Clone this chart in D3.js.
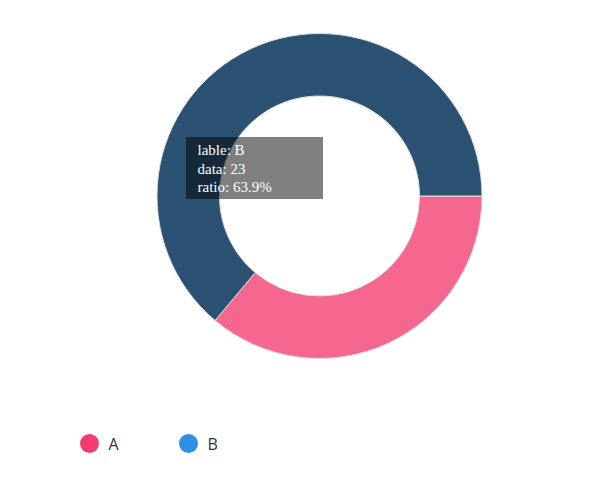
<!DOCTYPE html>
<html><head><meta charset="utf-8">
<script src="https://cdn.jsdelivr.net/npm/d3@7"></script>
<style>html,body{margin:0;padding:0;background:#fff;}</style>
</head><body>
<svg id="chart" width="594" height="496"></svg>
<script>
const labels = ["A", "B"];
const values = [13, 23];
const sliceColors = ["#F5678E", "#2B5273"];
const legendColors = ["#F43C6E", "#2F8EE6"];
const tooltipIndex = 1;

const svg = d3.select("#chart");
const cx = 319.5, cy = 196, rOuter = 162.5, rInner = 100;
const total = d3.sum(values);
const data = labels.map((l, i) => ({label: l, value: values[i], color: sliceColors[i], legend: legendColors[i]}));

const pie = d3.pie().value(d => d.value).sort(null)
  .startAngle(Math.PI / 2).endAngle(Math.PI / 2 + 2 * Math.PI);
const arc = d3.arc().innerRadius(rInner).outerRadius(rOuter);

const g = svg.append("g").attr("transform", `translate(${cx},${cy})`);
g.selectAll("path").data(pie(data)).join("path")
  .attr("d", arc)
  .attr("fill", d => d.data.color)
  .attr("stroke", "#ddd")
  .attr("stroke-width", 1);

// tooltip
const td = data[tooltipIndex];
const tip = svg.append("g").attr("transform", "translate(186,137)");
tip.append("rect").attr("width", 137).attr("height", 62).attr("fill", "rgba(0,0,0,0.5)");
const lines = ["lable: " + td.label, "data: " + td.value, "ratio: " + (td.value / total * 100).toFixed(1) + "%"];
tip.selectAll("text").data(lines).join("text")
  .attr("x", 11.5).attr("y", (d, i) => 18 + i * 18.5)
  .attr("fill", "#fff")
  .attr("font-family", "'Liberation Serif', 'Times New Roman', serif")
  .attr("font-size", 15)
  .text(d => d);

// legend
const leg = svg.append("g").attr("transform", "translate(89.5,443.5)");
const item = leg.selectAll("g").data(data).join("g")
  .attr("transform", (d, i) => `translate(${i * 99},0)`);
item.append("circle").attr("r", 9.5).attr("fill", d => d.legend);
item.append("text").attr("x", 19).attr("y", 6)
  .attr("font-family", "'Open Sans', 'Noto Sans', sans-serif")
  .attr("font-size", 16).attr("fill", "#333")
  .text(d => d.label);
</script>
</body></html>
